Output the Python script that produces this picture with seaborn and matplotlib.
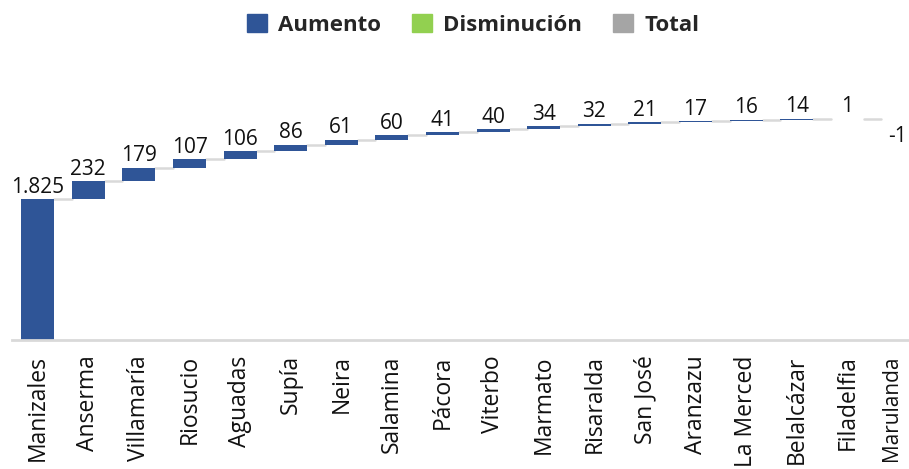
import numpy as np
import pandas as pd
import seaborn as sns
import matplotlib.pyplot as plt
import matplotlib.transforms as mtrans
from matplotlib.patches import Patch

sns.set_theme(style="white")
plt.rcParams['font.family'] = ['Open Sans', 'DejaVu Sans']

municipios = ["Manizales", "Anserma", "Villamaría", "Riosucio", "Aguadas", "Supía",
              "Neira", "Salamina", "Pácora", "Viterbo", "Marmato", "Risaralda",
              "San José", "Aranzazu", "La Merced", "Belalcázar", "Filadelfia", "Marulanda"]
cambios = [1825, 232, 179, 107, 106, 86, 61, 60, 41, 40, 34, 32, 21, 17, 16, 14, 1, -1]
etiquetas = ["1.825", "232", "179", "107", "106", "86", "61", "60", "41", "40", "34",
             "32", "21", "17", "16", "14", "1", "-1"]

c_aumento = "#2F5597"
c_disminucion = "#92D050"
c_total = "#A5A5A5"
c_linea = "#D9D9D9"

cambios = np.array(cambios)
acum = np.cumsum(cambios)
inicio = acum - cambios
df = pd.DataFrame({
    "municipio": municipios,
    "alto": np.abs(cambios),
    "base": np.minimum(inicio, acum),
})

fig = plt.figure(figsize=(9.09, 4.69), dpi=100)
ax = fig.add_axes([12.4 / 909, 1 - 340 / 469, 910.8 / 909, (0.0771 * 3000) / 469])

sns.barplot(data=df, x="municipio", y="alto", bottom=df["base"], color=c_aumento,
            width=0.65, saturation=1, ax=ax)
for p, c in zip(ax.patches, cambios):
    p.set_facecolor(c_aumento if c >= 0 else c_disminucion)
    p.set_edgecolor("none")

# conectores
w = 0.65 / 2
for i in range(len(cambios) - 1):
    ax.plot([i + w, i + 1 - w], [acum[i], acum[i]], color=c_linea, lw=1.8, zorder=0)

# etiquetas de valor
for i, (c, lab) in enumerate(zip(cambios, etiquetas)):
    if c >= 0:
        ax.annotate(lab, (i, acum[i]), xytext=(0, 1), textcoords="offset points",
                    ha="center", va="bottom", fontsize=15, color="#111111")
    else:
        ax.annotate(lab, (i, inicio[i]), xytext=(0, -5), textcoords="offset points",
                    ha="center", va="top", fontsize=15, color="#111111")

ax.set_ylim(0, 3000)
ax.set_xlim(-0.5, len(cambios) - 0.5)
ax.set_xlabel("")
ax.set_ylabel("")
ax.set_yticks([])
ax.tick_params(axis="x", length=0, pad=11, labelsize=16.5, colors="#111111")
plt.setp(ax.get_xticklabels(), rotation=90)
# la última etiqueta queda al borde; se corre y se achica un poco para que no se corte
ultima = ax.get_xticklabels()[-1]
ultima.set_fontsize(15)
ultima.set_transform(ultima.get_transform() +
                     mtrans.ScaledTranslation(-6 / 100, 0, fig.dpi_scale_trans))
for s in ["top", "left", "right"]:
    ax.spines[s].set_visible(False)
ax.spines["bottom"].set_color(c_linea)
ax.spines["bottom"].set_linewidth(2)

handles = [Patch(color=c_aumento, label="Aumento"),
           Patch(color=c_disminucion, label="Disminución"),
           Patch(color=c_total, label="Total")]
fig.legend(handles=handles, loc="center", bbox_to_anchor=(473 / 909, 1 - 25 / 469),
           ncol=3, frameon=False, handlelength=0.9, handleheight=0.9,
           handletextpad=0.5, columnspacing=1.4,
           prop={"weight": "bold", "size": 16})

fig.savefig("out.png", dpi=100)
